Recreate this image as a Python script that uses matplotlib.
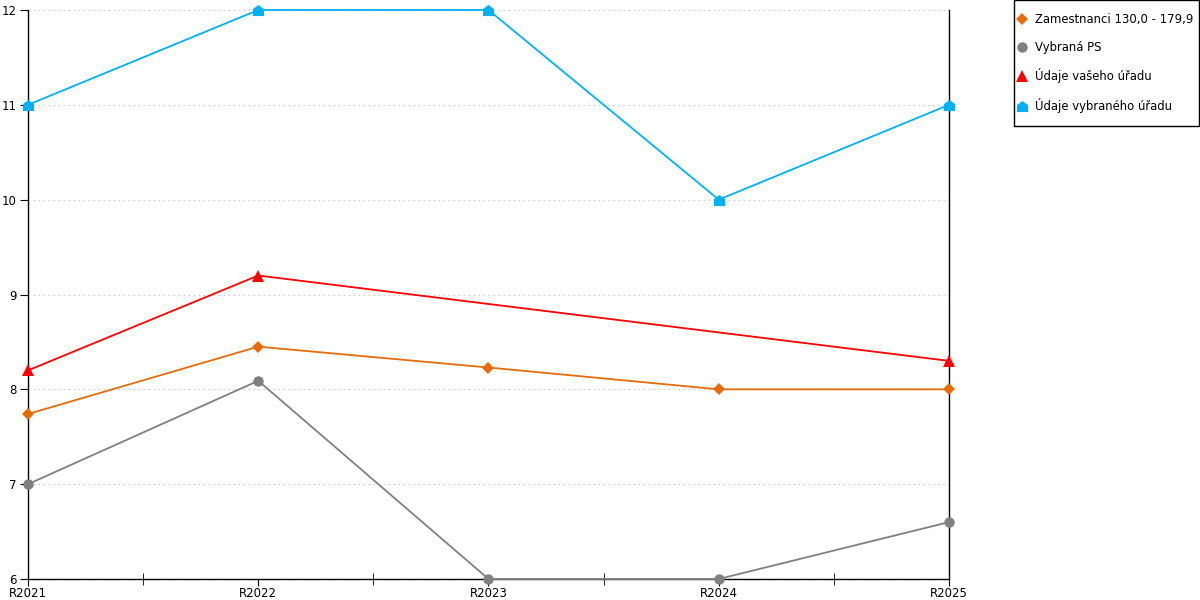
import numpy as np
import matplotlib.pyplot as plt
from matplotlib.lines import Line2D
from matplotlib.path import Path
from matplotlib.patches import Rectangle

plt.rcParams['font.family'] = 'DejaVu Sans'
plt.rcParams['font.size'] = 8.5

years = ['R2021', 'R2022', 'R2023', 'R2024', 'R2025']
zamestnanci = [7.74, 8.45, 8.23, 8.0, 8.0]
vybrana_ps = [7.0, 8.09, 6.0, 6.0, 6.6]
vas_urad = [8.2, 9.2, np.nan, np.nan, 8.3]
vybrany_urad = [11.0, 12.0, 12.0, 10.0, 11.0]

labels = ['Zamestnanci 130,0 - 179,9', 'Vybraná PS',
          'Údaje vašeho úřadu', 'Údaje vybraného úřadu']
colors = ['#E46C0A', '#808080', '#FF0000', '#00B0F0']

# house-shaped marker for the last series
house = Path([(-1, -1), (1, -1), (1, 0.25), (0, 1), (-1, 0.25), (-1, -1)],
             [Path.MOVETO] + [Path.LINETO] * 4 + [Path.CLOSEPOLY])
markers = ['D', 'o', '^', house]
sizes = [6, 7.5, 8, 8]

fig = plt.figure(figsize=(12, 6), dpi=100)
ax = fig.add_axes([28 / 1200, 21 / 600, 921 / 1200, 569 / 600])

x = np.arange(len(years))
series = [zamestnanci, vybrana_ps, vas_urad, vybrany_urad]
for vals, c, m, s in zip(series, colors, markers, sizes):
    v = np.asarray(vals, dtype=float)
    ok = ~np.isnan(v)
    ax.plot(x[ok], v[ok], color=c, lw=1.3, marker=m, markersize=s,
            markeredgewidth=0, zorder=3, clip_on=False)

ax.set_xlim(0, len(years) - 1)
ax.set_ylim(6, 12)
ax.set_xticks(x)
ax.set_xticklabels(years)
ax.set_xticks(x[:-1] + 0.5, minor=True)
ax.set_yticks(range(6, 13))
ax.tick_params(axis='x', which='major', direction='out', length=5, pad=1)
ax.tick_params(axis='x', which='minor', direction='inout', length=8)
ax.tick_params(axis='y', direction='out', length=6, pad=2)
ax.grid(axis='y', color='#c8c8c8', linestyle=(0, (1.5, 3)), lw=0.8)
ax.spines['top'].set_visible(False)
for sp in ['left', 'right', 'bottom']:
    ax.spines[sp].set_linewidth(1)
    ax.spines[sp].set_color('black')

# legend box drawn separately so its padding matches the original
fig.add_artist(Rectangle((1013.5 / 1200, 1 - 126 / 600), 185.5 / 1200, 125.5 / 600,
                         transform=fig.transFigure, fill=False,
                         edgecolor='black', lw=1))
handles = [Line2D([], [], color=c, marker=m, markersize=s, linestyle='none',
                  markeredgewidth=0)
           for c, m, s in zip(colors, markers, sizes)]
fig.legend(handles, labels, loc='upper left',
           bbox_to_anchor=(1018 / 1200, 1 - 13 / 600),
           frameon=False, fontsize=8.4, handlelength=0.7, handletextpad=0.75,
           labelspacing=1.25, borderpad=0, borderaxespad=0)

fig.savefig('out.png', dpi=100)
